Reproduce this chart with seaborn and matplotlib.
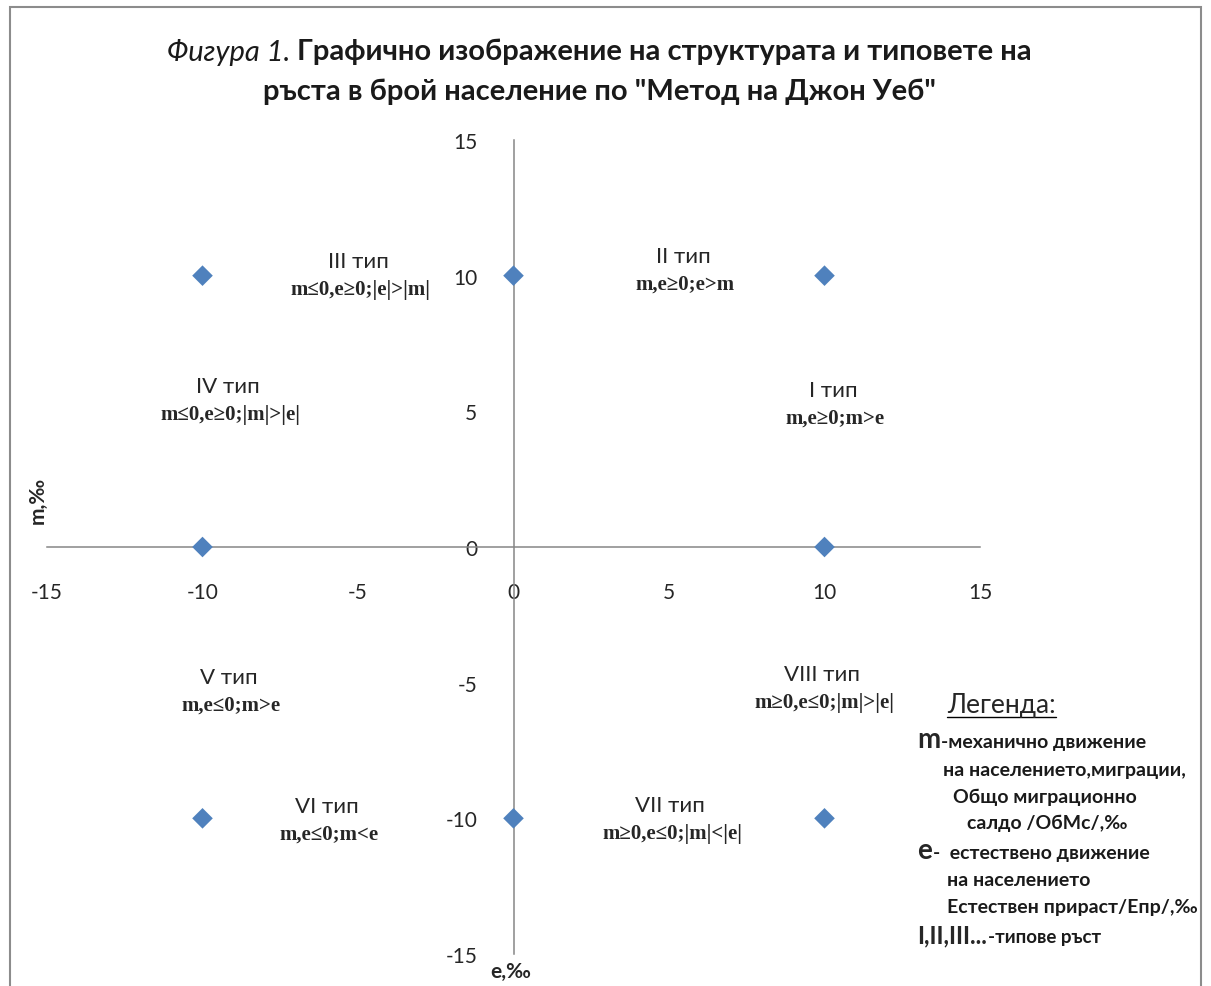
import matplotlib
matplotlib.use("Agg")
import matplotlib.pyplot as plt
import seaborn as sns
import pandas as pd
from matplotlib.patches import Rectangle

# Points of the Webb method diagram (e = natural, m = migration, per mille)
e_vals = [-10, 0, 10, -10, 10, -10, 0, 10]
m_vals = [10, 10, 10, 0, 0, -10, -10, -10]
ticks = [-15, -10, -5, 0, 5, 10, 15]

# Type labels: name, condition and pixel position of the name line
type_names = ["II тип", "III тип", "IV тип", "I тип", "V тип", "VIII тип", "VI тип", "VII тип"]
type_conds = ["m,e≥0;e>m", "m≤0,e≥0;|e|>|m|", "m≤0,e≥0;|m|>|e|", "m,e≥0;m>e",
              "m,e≤0;m>e", "m≥0,e≤0;|m|>|e|", "m,e≤0;m<e", "m≥0,e≤0;|m|<|e|"]
type_pos = [(683, 257), (358, 262), (228, 387), (833, 391),
            (229, 678), (822, 675), (327, 807), (670, 806)]

legend_lines = ["на населението,миграции,", "Общо миграционно", "салдо /ОбМс/,‰",
                "на населението", "Естествен прираст/Епр/,‰"]

sns.set_style("white")
plt.rcParams['font.family'] = ['Lato', 'DejaVu Sans']
plt.rcParams['axes.unicode_minus'] = False

W, H = 1211, 987
fig = plt.figure(figsize=(W / 100, H / 100), dpi=100)
ax = fig.add_axes([47 / W, 1 - 955 / H, (980 - 47) / W, (955 - 141) / H])

df = pd.DataFrame({"e": e_vals, "m": m_vals})
sns.scatterplot(data=df, x="e", y="m", marker="D", s=110, color="#4F81BD",
                edgecolor="none", ax=ax, zorder=5, clip_on=False)

ax.set_xlim(-15, 15)
ax.set_ylim(-15, 15)
ax.set_xticks(ticks)
ax.set_yticks(ticks)
for s in ["top", "right"]:
    ax.spines[s].set_visible(False)
ax.spines["left"].set_position(("data", 0))
ax.spines["bottom"].set_position(("data", 0))
for s in ["left", "bottom"]:
    ax.spines[s].set_color("#868686")
    ax.spines[s].set_linewidth(1.1)
ax.tick_params(axis="x", direction="out", length=6, width=1, color="#868686",
               labelsize=15, pad=19, labelcolor="#262626")
ax.tick_params(axis="y", direction="out", length=6, width=1, color="#868686",
               labelsize=15, pad=20, labelcolor="#262626")
ax.set_xlabel("")
ax.set_ylabel("")
ax.patch.set_alpha(0)

# frame around chart area
fig.patches.append(Rectangle((10 / W, -0.05), (1201 - 10) / W, 1 - 8 / H + 0.05,
                             transform=fig.transFigure, fill=False,
                             edgecolor="#8c8c8c", linewidth=1.5))

fig.canvas.draw()
r = fig.canvas.get_renderer()


def place_after(t_prev, txt, gap=0, **kw):
    # put a text right after another one on the same baseline
    bb = t_prev.get_window_extent(r)
    y = t_prev.get_position()[1]
    return fig.text((bb.x1 + gap) / W, y, txt, **kw)


# title with italic lead-in
t_it = fig.text(0, 1 - 52 / H, "Фигура 1. ", fontsize=21, style="italic",
                va="center", ha="left", color="#1a1a1a")
t_bd = fig.text(0, 1 - 52 / H, "Графично изображение на структурата и типовете на",
                fontsize=21, fontweight="bold", va="center", ha="left", color="#1a1a1a")
w1 = t_it.get_window_extent(r).width
w2 = t_bd.get_window_extent(r).width
x0 = 599 - (w1 + w2) / 2
t_it.set_x(x0 / W)
t_bd.set_x((x0 + w1) / W)
fig.text(599 / W, 1 - 92 / H, 'ръста в брой население по "Метод на Джон Уеб"',
         fontsize=21, fontweight="bold", ha="center", va="center", color="#1a1a1a")

# axis names
fig.text(38 / W, 1 - 500 / H, "m,‰", rotation=90, fontsize=15, fontweight="bold",
         ha="center", va="center")
fig.text(511 / W, 1 - 972 / H, "e,‰", fontsize=15, fontweight="bold",
         ha="center", va="center")

# type annotations
for name, cond, (px, py) in zip(type_names, type_conds, type_pos):
    fig.text(px / W, 1 - py / H, name, fontsize=16, ha="center", va="center",
             color="#262626")
    fig.text((px + 2) / W, 1 - (py + 28) / H, cond, fontsize=15, fontweight="bold",
             family=["Liberation Serif", "DejaVu Serif"], ha="center", va="center",
             color="#262626")

# legend block
lg = fig.text(947 / W, 1 - 705 / H, "Легенда:", fontsize=19, ha="left", va="center")
bb = lg.get_window_extent(r)
fig.lines.append(plt.Line2D([bb.x0 / W, bb.x1 / W], [1 - 718 / H, 1 - 718 / H],
                            transform=fig.transFigure, color="black", linewidth=1))

leg_font = dict(fontsize=14, fontweight="bold", ha="left", va="baseline", color="#1a1a1a")
tm = fig.text(917 / W, 1 - 748 / H, "m", fontsize=20, fontweight="bold",
              ha="left", va="baseline")
place_after(tm, "-механично движение", gap=1, **leg_font)
te = fig.text(917 / W, 1 - 859 / H, "e", fontsize=20, fontweight="bold",
              ha="left", va="baseline")
place_after(te, "-  естествено движение", gap=1, **leg_font)
leg_x = [943, 953, 967, 947, 947]
leg_y = [776, 803, 829, 886, 913]
for txt, lx, ly in zip(legend_lines, leg_x, leg_y):
    fig.text(lx / W, 1 - ly / H, txt, **leg_font)
tr = fig.text(917 / W, 1 - 943 / H, "I,II,III...", fontsize=17, fontweight="bold",
              ha="left", va="baseline")
place_after(tr, "-типове ръст", gap=1, fontsize=13.5, fontweight="bold",
            ha="left", va="baseline", color="#1a1a1a")

fig.savefig("out.png", dpi=100)
